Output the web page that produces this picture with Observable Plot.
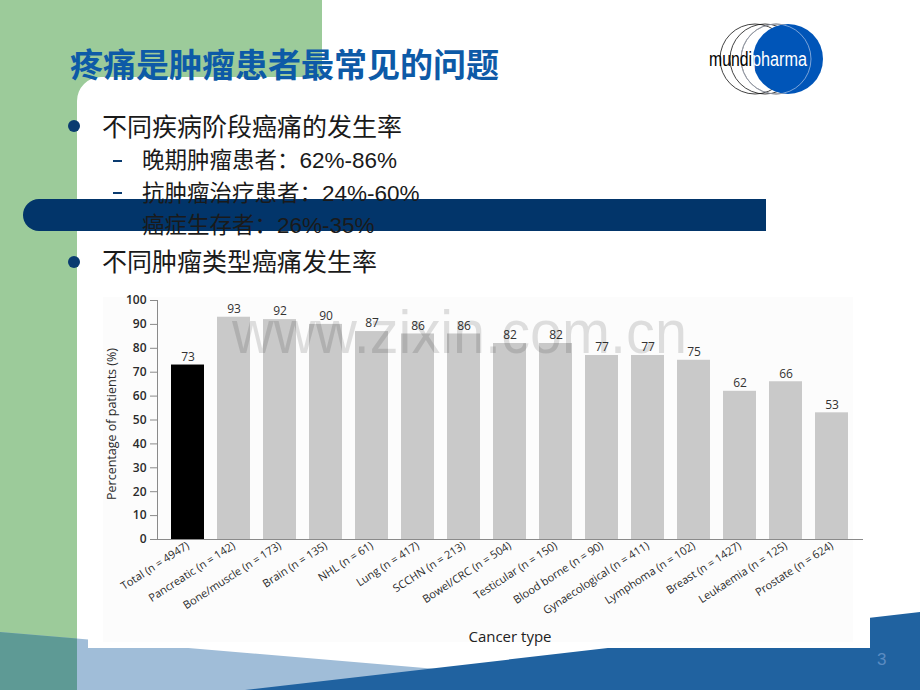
<!DOCTYPE html>
<html>
<head>
<meta charset="utf-8">
<script src="https://cdn.jsdelivr.net/npm/d3@7"></script>
<script src="https://cdn.jsdelivr.net/npm/@observablehq/plot@0.6"></script>
<style>
  html, body { margin: 0; padding: 0; background: #fff; }
  #slide { position: relative; width: 920px; height: 690px; overflow: hidden; background: #fff; }
  .abs { position: absolute; }
  .cjk { font-family: "Noto Sans CJK SC", sans-serif; white-space: nowrap; }
  .lat { font-family: "Liberation Sans", Arial, sans-serif; }
</style>
</head>
<body>
<div id="slide">
  <svg class="abs" style="left:0;top:0" width="920" height="690">
    <path d="M0,0 H322 V77 H101 A24,24 0 0 0 77,101 V690 H0 Z" fill="#9ccb9a"/>
    <polygon points="0,632 682,690 0,690" fill="#a0bdd8"/>
    <polygon points="0,632 77,638.5 77,690 0,690" fill="#5e9a95"/>
    <polygon points="245,690 920,612 920,690" fill="#2062a0"/>
    <rect x="88" y="290" width="782" height="358" fill="#ffffff"/>
    <rect x="103" y="297" width="750" height="345" fill="#fcfcfc"/>
  </svg>

  <div id="chart" class="abs" style="left:88px;top:290px;"></div>

  <svg class="abs" style="left:0;top:0;pointer-events:none" width="920" height="690">
    <text x="232" y="353" font-family="Liberation Sans, Arial, sans-serif" font-size="62" fill="rgba(0,0,0,0.12)" textLength="455" lengthAdjust="spacingAndGlyphs">www.zixin.com.cn</text>
  </svg>

  <div class="abs" style="left:23px;top:199px;width:743px;height:32px;border-radius:16px 0 0 16px;background:#02356a;"></div>

  <div class="abs cjk" style="left:70px;top:42px;font-size:33px;font-weight:700;color:#0d5aa7;line-height:42px;">疼痛是肿瘤患者最常见的问题</div>

  <div class="abs" style="left:68px;top:120px;width:12px;height:12px;border-radius:6px;background:#0a3b70;"></div>
  <div class="abs cjk" style="left:102px;top:109px;font-size:25px;line-height:32px;color:#1a1a1a;">不同疾病阶段癌痛的发生率</div>

  <div class="abs" style="left:113px;top:160px;width:9px;height:1.6px;background:#0a3b70;"></div>
  <div class="abs cjk" style="left:142px;top:143px;font-size:22.5px;line-height:30px;color:#1a1a1a;">晚期肿瘤患者：<span class="lat">62%-86%</span></div>

  <div class="abs" style="left:113px;top:192px;width:9px;height:1.6px;background:#0a3b70;"></div>
  <div class="abs cjk" style="left:142px;top:176px;font-size:22.5px;line-height:30px;color:#1a1a1a;">抗肿瘤治疗患者：<span class="lat">24%-60%</span></div>

  <div class="abs cjk" style="left:142px;top:208px;font-size:22.5px;line-height:30px;color:#1a1a1a;">癌症生存者：<span class="lat">26%-35%</span></div>

  <div class="abs" style="left:68px;top:256px;width:12px;height:12px;border-radius:6px;background:#0a3b70;"></div>
  <div class="abs cjk" style="left:102px;top:244px;font-size:25px;line-height:32px;color:#1a1a1a;">不同肿瘤类型癌痛发生率</div>

  <svg class="abs" style="left:700px;top:15px" width="140" height="90">
    <g transform="translate(-700,-15)">
      <circle cx="755" cy="59" r="35" fill="none" stroke="#111" stroke-width="0.8"/>
      <circle cx="765" cy="59" r="35" fill="none" stroke="#111" stroke-width="0.8"/>
      <circle cx="776" cy="59" r="35" fill="none" stroke="#111" stroke-width="0.8"/>
      <circle cx="788" cy="59" r="35" fill="#0055b8"/>
      <circle cx="776" cy="59" r="35" fill="none" stroke="#cfd8ee" stroke-width="0.6"/>
      <text x="709" y="66" font-family="Liberation Sans Narrow, Liberation Sans, Arial, sans-serif" font-size="20" textLength="43" lengthAdjust="spacingAndGlyphs" fill="#000">mundi</text>
      <text x="752" y="66" font-family="Liberation Sans Narrow, Liberation Sans, Arial, sans-serif" font-size="20" textLength="55" lengthAdjust="spacingAndGlyphs" fill="#fff">pharma</text>
    </g>
  </svg>

  <div class="abs lat" style="left:877px;top:649px;font-size:17px;line-height:22px;color:#5b8cc2;">3</div>
</div>

<script>
const categories = [
  "Total (n = 4947)", "Pancreatic (n = 142)", "Bone/muscle (n = 173)", "Brain (n = 135)",
  "NHL (n = 61)", "Lung (n = 417)", "SCCHN (n = 213)", "Bowel/CRC (n = 504)",
  "Testicular (n = 150)", "Blood borne (n = 90)", "Gynaecological (n = 411)",
  "Lymphoma (n = 102)", "Breast (n = 1427)", "Leukaemia (n = 125)", "Prostate (n = 624)"
];
const values = [73, 93, 92, 90, 87, 86, 86, 82, 82, 77, 77, 75, 62, 66, 53];
const yTicks = [0, 10, 20, 30, 40, 50, 60, 70, 80, 90, 100];
const yLabel = "Percentage of patients (%)";
const xLabel = "Cancer type";

const data = categories.map((c, i) => ({category: c, value: values[i], total: i === 0}));

const chart = Plot.plot({
  width: 782,
  height: 358,
  marginTop: 10,
  marginLeft: 69,
  marginRight: 8,
  marginBottom: 109,
  style: {background: "transparent", fontFamily: "'Open Sans', sans-serif", fontSize: "10px", color: "#222", overflow: "visible"},
  x: {domain: categories, paddingInner: 0.28, paddingOuter: 0.26, label: null},
  y: {domain: [0, 100], label: null},
  marks: [
    Plot.barY(data, {x: "category", y: "value", fill: d => d.total ? "#000000" : "#c9c9c9"}),
    Plot.text(data, {x: "category", y: "value", text: d => String(d.value), dy: -8, fill: "#333", fontSize: 12, fontWeight: 500}),
    Plot.frame({anchor: "left", stroke: "#8a8a8a"}),
    Plot.frame({anchor: "bottom", stroke: "#8a8a8a"}),
    Plot.axisY({ticks: yTicks, tickSize: 7, tickPadding: 4, fontSize: 12, fontWeight: 600, stroke: "#8a8a8a", fill: "#2a2a2a", label: null}),
    Plot.axisX({tickRotate: -33, tickSize: 0, tickPadding: 5, fontSize: 11, fill: "#2a2a2a", label: null}),
    Plot.text([yLabel], {frameAnchor: "left", rotate: -90, dx: -46, dy: 4, textAnchor: "middle", lineAnchor: "middle", fontSize: 12.5, fill: "#2a2a2a"}),
    Plot.text([xLabel], {frameAnchor: "bottom", dy: 98, textAnchor: "middle", lineAnchor: "middle", fontSize: 15, fill: "#222"})
  ]
});
document.getElementById("chart").appendChild(chart);
</script>
</body>
</html>
